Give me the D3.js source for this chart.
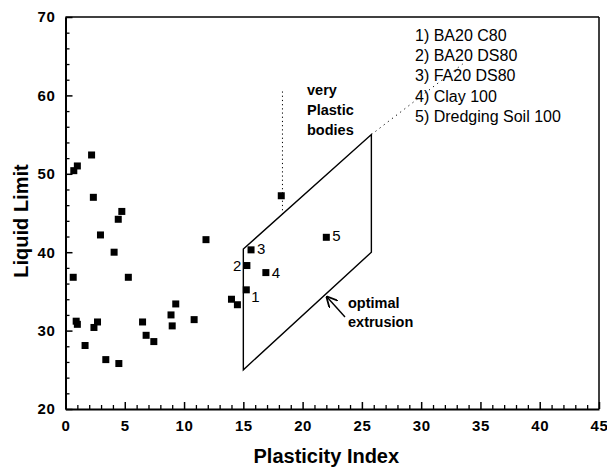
<!DOCTYPE html>
<html><head><meta charset="utf-8">
<script src="https://cdn.jsdelivr.net/npm/d3@7"></script>
<style>body{margin:0;background:#fff}svg{display:block}text{font-family:Arial,"Liberation Sans",sans-serif}</style>
</head><body><div id="c"></div>
<script>
// ---- data ----
const xTicks = [0,5,10,15,20,25,30,35,40,45];
const yTicks = [20,30,40,50,60,70];
const plasticity = [2.2,0.7,1.0,2.35,4.75,4.45,2.95,4.1,0.65,5.3,0.9,1.0,1.65,2.4,2.7,3.4,4.5,6.5,6.8,7.45,8.9,9.0,9.3,10.85,11.85,14.0,14.5,18.2];
const liquid     = [52.4,50.4,51.0,47.0,45.2,44.2,42.2,40.0,36.8,36.8,31.2,30.8,28.1,30.4,31.1,26.3,25.8,31.1,29.4,28.6,32.0,30.6,33.4,31.4,41.6,34.0,33.3,47.2];
const labelNames = ["1","2","3","4","5"];
const labelX = [15.25,15.3,15.65,16.9,22.0];
const labelY = [35.2,38.3,40.3,37.4,41.9];
const legendItems = ["1) BA20 C80","2) BA20 DS80","3) FA20 DS80","4) Clay 100","5) Dredging Soil 100"];
const regionX = [15,15,25.8,25.8];
const regionY = [25,40.4,55,40];

const W=607,H=471;
const m={l:65.5,r:8,t:17,b:62};
const svg=d3.select("#c").append("svg").attr("width",W).attr("height",H);
const x=d3.scaleLinear().domain([0,45]).range([m.l,W-m.r]);
const y=d3.scaleLinear().domain([20,70]).range([H-m.b,m.t]);

// frame top/right
svg.append("line").attr("x1",x(0)).attr("x2",x(45)).attr("y1",y(70)).attr("y2",y(70)).attr("stroke","#000").attr("stroke-width",1.5);
svg.append("line").attr("x1",x(45)).attr("x2",x(45)).attr("y1",y(70)).attr("y2",y(20)).attr("stroke","#000").attr("stroke-width",1.5);

// axes
const minorX=d3.range(0,46,1).filter(v=>v%5!==0);
const minorY=d3.range(20,71,2).filter(v=>v%10!==0);
function styleAxis(g){g.select(".domain").attr("stroke-width",2);g.selectAll(".tick line").attr("stroke-width",1.5);
 g.selectAll("text").attr("font-size",15).attr("font-weight","bold").attr("fill","#000").attr("letter-spacing","0.6px").style("font-family","Arial, 'Liberation Sans', sans-serif");}
svg.append("g").attr("transform",`translate(0,${y(20)})`).call(d3.axisBottom(x).tickValues(minorX).tickSize(-4).tickFormat("")).call(g=>{g.select(".domain").remove();g.selectAll(".tick line").attr("stroke-width",1.3);});
svg.append("g").attr("transform",`translate(${x(0)},0)`).call(d3.axisLeft(y).tickValues(minorY).tickSize(-4).tickFormat("")).call(g=>{g.select(".domain").remove();g.selectAll(".tick line").attr("stroke-width",1.3);});
svg.append("g").attr("transform",`translate(0,${y(20)})`).call(d3.axisBottom(x).tickValues(xTicks).tickSize(-7).tickSizeOuter(0).tickPadding(8)).call(styleAxis)
  .call(g=>g.selectAll("text").attr("dy","0.95em"));
svg.append("g").attr("transform",`translate(${x(0)},0)`).call(d3.axisLeft(y).tickValues(yTicks).tickSize(-7).tickSizeOuter(0).tickPadding(10)).call(styleAxis);

// axis titles
svg.append("text").attr("x",x(22)).attr("y",463).attr("text-anchor","middle").attr("font-size",20).attr("font-weight","bold").text("Plasticity Index");
svg.append("text").attr("transform",`translate(28,${(y(20)+y(70))/2+8}) rotate(-90)`).attr("text-anchor","middle").attr("font-size",20).attr("font-weight","bold").text("Liquid Limit");

// optimal extrusion region
const line=d3.line().x((d,i)=>x(regionX[i])).y((d,i)=>y(regionY[i]));
svg.append("path").attr("d",line(regionX)+"Z").attr("fill","none").attr("stroke","#000").attr("stroke-width",1.4);

// dotted guides
svg.append("line").attr("x1",x(18.3)).attr("x2",x(18.3)).attr("y1",y(60.5)).attr("y2",y(44.9)).attr("stroke","#000").attr("stroke-width",1).attr("stroke-dasharray","1.2,3");
svg.append("line").attr("x1",x(25.8)).attr("x2",x(33.5)).attr("y1",y(55)).attr("y2",y(64)).attr("stroke","#000").attr("stroke-width",1).attr("stroke-dasharray","1.2,4");

// points
const s=7;
svg.append("g").selectAll("rect").data(plasticity).join("rect")
 .attr("x",(d)=>x(d)-s/2).attr("y",(d,i)=>y(liquid[i])-s/2).attr("width",s).attr("height",s).attr("fill","#000");
svg.append("g").selectAll("rect").data(labelX).join("rect")
 .attr("x",(d)=>x(d)-s/2).attr("y",(d,i)=>y(labelY[i])-s/2).attr("width",s).attr("height",s).attr("fill","#000");

// point labels
const lblOff=[[5,12],[-14,5],[6,4],[6,5],[6,4]];
svg.append("g").selectAll("text").data(labelNames).join("text")
 .attr("x",(d,i)=>x(labelX[i])+lblOff[i][0]).attr("y",(d,i)=>y(labelY[i])+lblOff[i][1])
 .attr("font-size",15).text(d=>d);

// annotations
const vp=svg.append("text").attr("font-size",14.5).attr("font-weight","bold");
["very","Plastic","bodies"].forEach((t,i)=>vp.append("tspan").attr("x",307).attr("y",95+i*20).text(t));
const oe=svg.append("text").attr("font-size",14.5).attr("font-weight","bold");
["optimal","extrusion"].forEach((t,i)=>oe.append("tspan").attr("x",348).attr("y",308+i*19).text(t));
svg.append("defs").append("marker").attr("id","ah").attr("viewBox","0 0 10 10").attr("refX",9).attr("refY",5)
 .attr("markerWidth",8).attr("markerHeight",8).attr("orient","auto").append("path").attr("d","M0,0 L10,5 L0,10").attr("fill","none").attr("stroke","#000").attr("stroke-width",1.6);
svg.append("line").attr("x1",345).attr("y1",317).attr("x2",327).attr("y2",297).attr("stroke","#000").attr("stroke-width",1.4).attr("marker-end","url(#ah)");

// legend
svg.append("g").selectAll("text").data(legendItems).join("text")
 .attr("x",415).attr("y",(d,i)=>41+i*20.2).attr("font-size",16).text(d=>d);
</script></body></html>
